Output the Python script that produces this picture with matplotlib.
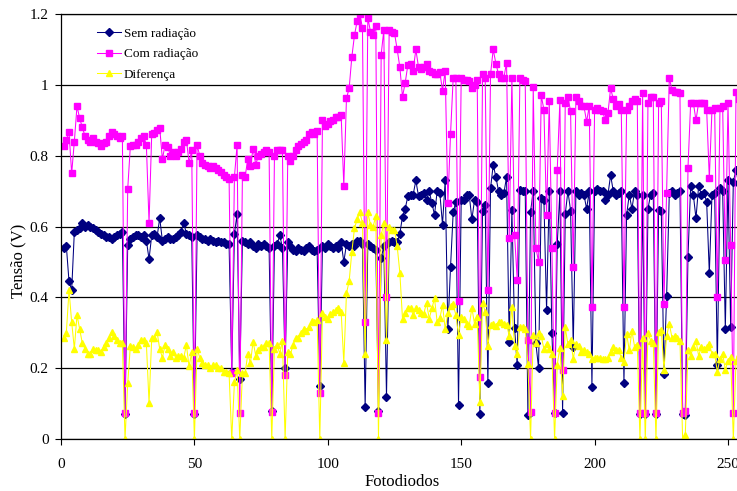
import numpy as np
import matplotlib
matplotlib.use("Agg")
import matplotlib.pyplot as plt
from matplotlib.ticker import FuncFormatter

# photodiode index 1..256
fotodiodos = np.arange(1, 257)

sem_radiacao = [
    0.54, 0.545, 0.445, 0.42, 0.585, 0.59, 0.595, 0.61, 0.60, 0.605,
    0.60, 0.595, 0.59, 0.585, 0.58, 0.575, 0.57, 0.57, 0.565, 0.57,
    0.575, 0.58, 0.585, 0.07, 0.548, 0.565, 0.57, 0.575, 0.575, 0.57,
    0.575, 0.56, 0.508, 0.575, 0.58, 0.57, 0.624, 0.56, 0.565, 0.57,
    0.565, 0.565, 0.57, 0.575, 0.585, 0.61, 0.58, 0.575, 0.57, 0.07,
    0.575, 0.57, 0.565, 0.565, 0.56, 0.565, 0.56, 0.555, 0.56, 0.555,
    0.555, 0.55, 0.55, 0.19, 0.58, 0.635, 0.17, 0.56, 0.555, 0.55,
    0.555, 0.545, 0.54, 0.55, 0.545, 0.55, 0.545, 0.54, 0.08, 0.545,
    0.55, 0.575, 0.54, 0.20, 0.555, 0.545, 0.535, 0.53, 0.54, 0.535,
    0.53, 0.54, 0.545, 0.535, 0.53, 0.535, 0.15, 0.545, 0.54, 0.55,
    0.545, 0.54, 0.545, 0.54, 0.555, 0.50, 0.55, 0.545, 0.55, 0.545,
    0.56, 0.56, 0.55, 0.09, 0.55, 0.545, 0.54, 0.535, 0.08, 0.51,
    0.545, 0.12, 0.555, 0.56, 0.555, 0.555, 0.58, 0.628, 0.65, 0.685,
    0.69, 0.69, 0.73, 0.686, 0.69, 0.696, 0.675, 0.70, 0.666, 0.633,
    0.70, 0.694, 0.605, 0.73, 0.31, 0.485, 0.64, 0.67, 0.096, 0.675,
    0.675, 0.69, 0.69, 0.62, 0.675, 0.67, 0.072, 0.645, 0.66, 0.157,
    0.708, 0.774, 0.74, 0.70, 0.69, 0.694, 0.74, 0.275, 0.647, 0.313,
    0.209, 0.703, 0.70, 0.70, 0.068, 0.642, 0.70, 0.27, 0.20, 0.68,
    0.675, 0.364, 0.70, 0.30, 0.073, 0.55, 0.70, 0.074, 0.635, 0.70,
    0.645, 0.26, 0.70, 0.69, 0.695, 0.69, 0.65, 0.70, 0.148, 0.70,
    0.705, 0.70, 0.70, 0.675, 0.69, 0.745, 0.70, 0.69, 0.695, 0.70,
    0.157, 0.633, 0.69, 0.65, 0.70, 0.69, 0.07, 0.69, 0.07, 0.65,
    0.69, 0.695, 0.07, 0.647, 0.645, 0.184, 0.404, 0.694, 0.70, 0.69,
    0.695, 0.70, 0.07, 0.068, 0.515, 0.713, 0.69, 0.623, 0.715, 0.69,
    0.695, 0.67, 0.468, 0.69, 0.695, 0.21, 0.708, 0.70, 0.31, 0.73,
    0.317, 0.727, 0.76, 0.72, 0.70, 0.70,
]

com_radiacao = [
    0.826, 0.845, 0.866, 0.75, 0.84, 0.94, 0.905, 0.88, 0.855, 0.845,
    0.84, 0.85, 0.84, 0.835, 0.826, 0.835, 0.84, 0.855, 0.868, 0.86,
    0.855, 0.85, 0.855, 0.073, 0.705, 0.828, 0.83, 0.83, 0.84, 0.85,
    0.855, 0.83, 0.61, 0.86, 0.865, 0.873, 0.878, 0.79, 0.83, 0.825,
    0.80, 0.81, 0.80, 0.81, 0.82, 0.84, 0.845, 0.78, 0.815, 0.073,
    0.83, 0.80, 0.78, 0.775, 0.77, 0.765, 0.77, 0.765, 0.76, 0.755,
    0.745, 0.74, 0.735, 0.185, 0.74, 0.83, 0.073, 0.745, 0.74, 0.79,
    0.77, 0.82, 0.775, 0.80, 0.805, 0.81, 0.816, 0.81, 0.077, 0.80,
    0.816, 0.816, 0.816, 0.18, 0.80, 0.785, 0.80, 0.816, 0.826, 0.833,
    0.84, 0.845, 0.86, 0.868, 0.86, 0.87, 0.13, 0.90, 0.885, 0.89,
    0.897, 0.90, 0.91, 0.91, 0.915, 0.715, 0.962, 0.99, 1.078, 1.14,
    1.18, 1.20, 1.16, 0.33, 1.19, 1.15, 1.14, 1.165, 0.073, 1.085,
    1.155, 0.40, 1.155, 1.15, 1.146, 1.10, 1.05, 0.967, 1.005, 1.056,
    1.06, 1.04, 1.10, 1.05, 1.045, 1.05, 1.06, 1.04, 1.035, 1.03,
    1.03, 1.035, 0.984, 1.04, 0.666, 0.86, 1.02, 1.02, 0.39, 1.02,
    1.014, 1.014, 1.01, 0.99, 1.0, 1.014, 0.176, 1.03, 1.02, 0.42,
    1.03, 1.10, 1.06, 1.03, 1.02, 1.02, 1.063, 0.567, 1.02, 0.576,
    0.45, 1.02, 1.015, 1.01, 0.28, 0.077, 0.995, 0.54, 0.50, 0.97,
    0.93, 0.633, 0.953, 0.54, 0.073, 0.76, 0.958, 0.195, 0.95, 0.967,
    0.925, 0.487, 0.967, 0.953, 0.94, 0.94, 0.896, 0.94, 0.374, 0.93,
    0.935, 0.93, 0.925, 0.90, 0.92, 0.99, 0.96, 0.94, 0.945, 0.93,
    0.374, 0.93, 0.94, 0.955, 0.96, 0.955, 0.073, 0.976, 0.073, 0.95,
    0.967, 0.967, 0.073, 0.95, 0.953, 0.38, 0.694, 1.02, 0.986, 0.98,
    0.98, 0.976, 0.073, 0.08, 0.765, 0.948, 0.95, 0.90, 0.95, 0.95,
    0.95, 0.93, 0.736, 0.93, 0.935, 0.40, 0.934, 0.94, 0.506, 0.95,
    0.548, 0.073, 0.98, 0.96, 0.95, 0.95,
]

diferenca = [
    0.286, 0.30, 0.42, 0.33, 0.255, 0.35, 0.31, 0.27, 0.255, 0.24,
    0.24, 0.255, 0.25, 0.25, 0.246, 0.26, 0.27, 0.285, 0.303, 0.29,
    0.28, 0.27, 0.27, 0.0, 0.157, 0.263, 0.26, 0.255, 0.265, 0.28,
    0.28, 0.27, 0.102, 0.285, 0.285, 0.303, 0.254, 0.23, 0.265, 0.255,
    0.235, 0.245, 0.23, 0.235, 0.235, 0.23, 0.265, 0.205, 0.245, 0.0,
    0.255, 0.23, 0.215, 0.21, 0.21, 0.20, 0.21, 0.21, 0.20, 0.20,
    0.19, 0.19, 0.185, 0.0, 0.16, 0.195, 0.0, 0.185, 0.185, 0.24,
    0.215, 0.275, 0.235, 0.25, 0.26, 0.26, 0.271, 0.27, 0.0, 0.255,
    0.266, 0.241, 0.276, 0.0, 0.245, 0.24, 0.265, 0.286, 0.286, 0.298,
    0.31, 0.305, 0.315, 0.333, 0.33, 0.335, 0.0, 0.355, 0.345, 0.34,
    0.352, 0.36, 0.365, 0.37, 0.36, 0.215, 0.412, 0.445, 0.528, 0.595,
    0.62, 0.64, 0.61, 0.24, 0.64, 0.605, 0.60, 0.63, 0.0, 0.575,
    0.61, 0.28, 0.60, 0.59, 0.591, 0.545, 0.47, 0.339, 0.355, 0.371,
    0.37, 0.35, 0.37, 0.364, 0.355, 0.354, 0.385, 0.34, 0.369, 0.397,
    0.33, 0.341, 0.379, 0.31, 0.356, 0.375, 0.38, 0.35, 0.294, 0.345,
    0.339, 0.324, 0.32, 0.37, 0.325, 0.344, 0.104, 0.385, 0.36, 0.263,
    0.322, 0.326, 0.32, 0.33, 0.33, 0.326, 0.323, 0.292, 0.373, 0.263,
    0.241, 0.317, 0.315, 0.31, 0.212, 0.0, 0.295, 0.27, 0.30, 0.29,
    0.255, 0.269, 0.253, 0.24, 0.0, 0.21, 0.258, 0.121, 0.315, 0.267,
    0.28, 0.227, 0.267, 0.263, 0.245, 0.25, 0.246, 0.24, 0.226, 0.23,
    0.23, 0.23, 0.225, 0.225, 0.23, 0.245, 0.26, 0.25, 0.25, 0.23,
    0.217, 0.297, 0.25, 0.305, 0.26, 0.265, 0.0, 0.286, 0.0, 0.30,
    0.277, 0.272, 0.0, 0.303, 0.308, 0.196, 0.29, 0.326, 0.286, 0.29,
    0.285, 0.276, 0.0, 0.012, 0.25, 0.235, 0.26, 0.277, 0.235, 0.26,
    0.255, 0.26, 0.268, 0.24, 0.24, 0.19, 0.226, 0.24, 0.196, 0.22,
    0.231, 0.0, 0.22, 0.24, 0.25, 0.25,
]

plt.rcParams['font.family'] = ['Liberation Serif', 'DejaVu Serif']

fig = plt.figure(figsize=(7.37, 4.91), dpi=100)
# axes run a bit past the right edge, like the cropped original
ax = fig.add_axes([61 / 737, 52 / 491, 683 / 737, 425 / 491])

ax.plot(fotodiodos, sem_radiacao, color='#000080', lw=0.75, marker='D',
        markersize=3.6, label='Sem radiação')
ax.plot(fotodiodos, com_radiacao, color='#FF00FF', lw=0.75, marker='s',
        markersize=4.6, label='Com radiação')
ax.plot(fotodiodos, diferenca, color='#FFFF00', lw=0.75, marker='^',
        markersize=5, label='Diferença')

ax.set_xlim(0, 256)
ax.set_ylim(0, 1.2)
ax.set_xticks([0, 50, 100, 150, 200, 250])
ax.set_yticks([0, 0.2, 0.4, 0.6, 0.8, 1.0, 1.2])
ax.yaxis.set_major_formatter(FuncFormatter(lambda v, p: '%g' % round(v, 2)))
ax.tick_params(labelsize=11, length=4, width=0.8, direction='out')
ax.tick_params(axis='x', pad=10)
ax.tick_params(axis='y', pad=5)
ax.grid(axis='y', color='black', lw=0.9)
ax.set_axisbelow(True)
for s in ax.spines.values():
    s.set_linewidth(0.9)

ax.set_xlabel('Fotodiodos', fontsize=12, labelpad=2)
ax.set_ylabel('Tensão (V)', fontsize=12)
ax.yaxis.set_label_coords(-0.051, 0.42)

ax.legend(loc='upper left', bbox_to_anchor=(0.053, 0.968), frameon=False,
          fontsize=9.5, handlelength=1.8, handletextpad=0.2,
          labelspacing=0.62, borderpad=0, borderaxespad=0, numpoints=1)

fig.savefig('out.png', dpi=100)
